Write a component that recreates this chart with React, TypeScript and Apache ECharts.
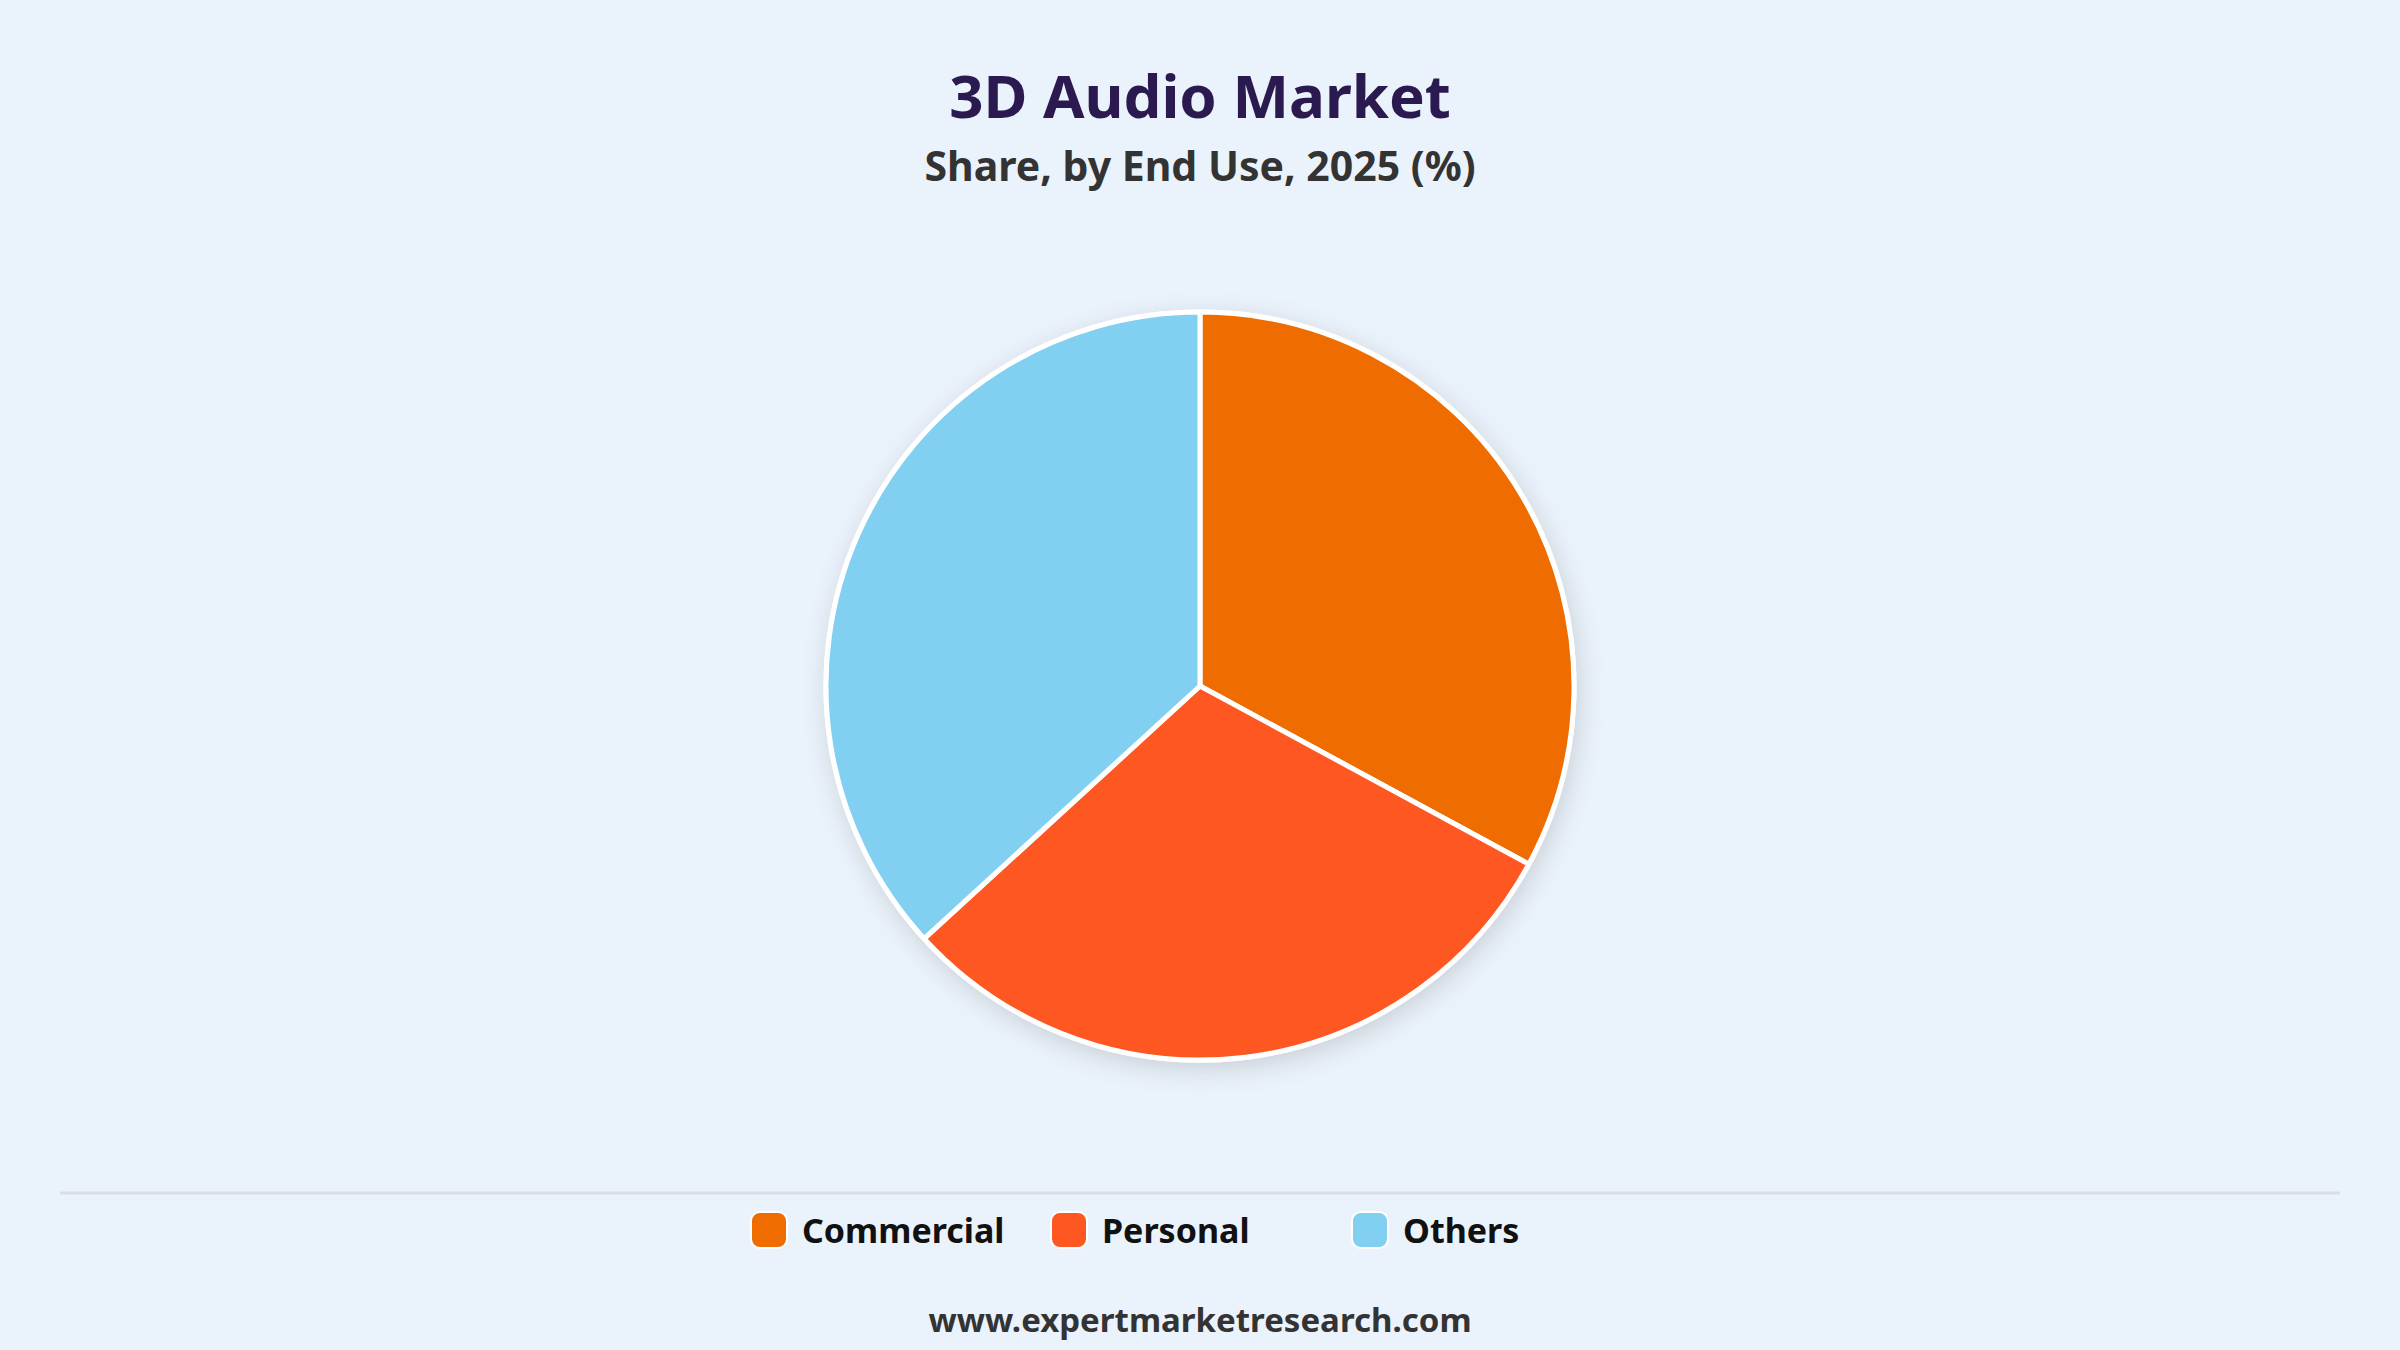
import { useEffect, useRef } from "react";
import * as echarts from "echarts";

// Share by end use, 2025 (%)
const categories = ["Commercial", "Personal", "Others"];
const shares = [32.9, 30.3, 36.8];
const colors = ["#EE6C00", "#FF5722", "#81CFF1"];
// legend slots are fixed-width in the reference, one legend per item
const legendLefts = [750, 1050, 1351];

const TITLE = "3D Audio Market";
const SUBTITLE = "Share, by End Use, 2025 (%)";
const SOURCE = "www.expertmarketresearch.com";
const FONT = "'Noto Sans', 'Open Sans', sans-serif";

export default function App() {
  const chartRef = useRef<HTMLDivElement>(null);

  useEffect(() => {
    if (!chartRef.current) return;
    document.body.style.margin = "0";

    const chart = echarts.init(chartRef.current, undefined, { renderer: "svg" });

    const pieCenter = [1200, 686];
    const pieRadius = 374;

    chart.setOption({
      animation: false,
      backgroundColor: "#EAF2FB",
      textStyle: { fontFamily: FONT },
      title: [
        {
          text: TITLE,
          left: "center",
          top: 60,
          textStyle: {
            fontFamily: FONT,
            fontSize: 60,
            fontWeight: "bold",
            color: "#2B1A4F",
          },
        },
        {
          text: SUBTITLE,
          left: "center",
          top: 139,
          textStyle: {
            fontFamily: FONT,
            fontSize: 41,
            fontWeight: "bold",
            color: "#333333",
          },
        },
      ],
      legend: categories.map((name, i) => ({
        data: [name],
        left: legendLefts[i],
        top: 1211,
        padding: 0,
        icon: "roundRect",
        itemWidth: 36,
        itemHeight: 36,
        textStyle: {
          fontFamily: FONT,
          fontSize: 34,
          fontWeight: "bold",
          color: "#111111",
          padding: [0, 0, 0, 10],
        },
      })),
      graphic: [
        {
          type: "line",
          shape: { x1: 60, y1: 1193, x2: 2340, y2: 1193 },
          style: { stroke: "#DADDE2", lineWidth: 3 },
          silent: true,
        },
        {
          type: "text",
          left: "center",
          top: 1303,
          style: {
            text: SOURCE,
            fontFamily: FONT,
            fontSize: 33,
            fontWeight: "bold",
            fill: "#333333",
          },
        },
      ],
      series: [
        // soft drop shadow behind the whole disc
        {
          type: "pie",
          silent: true,
          center: pieCenter,
          radius: pieRadius,
          label: { show: false },
          labelLine: { show: false },
          itemStyle: {
            color: "#FFFFFF",
            borderColor: "#FFFFFF",
            borderWidth: 5,
            shadowBlur: 26,
            shadowColor: "rgba(0, 0, 0, 0.14)",
            shadowOffsetX: 3,
            shadowOffsetY: 7,
          },
          emphasis: { disabled: true },
          data: [{ value: 1, name: "" }],
        },
        {
          type: "pie",
          center: pieCenter,
          radius: pieRadius,
          startAngle: 90,
          clockwise: true,
          label: { show: false },
          labelLine: { show: false },
          itemStyle: {
            borderColor: "#FFFFFF",
            borderWidth: 5,
          },
          emphasis: { disabled: true },
          data: categories.map((name, i) => ({
            name,
            value: shares[i],
            itemStyle: { color: colors[i] },
          })),
        },
      ],
    });

    return () => {
      chart.dispose();
    };
  }, []);

  return (
    <div
      ref={chartRef}
      style={{ position: "absolute", left: 0, top: 0, width: 2400, height: 1350 }}
    />
  );
}
